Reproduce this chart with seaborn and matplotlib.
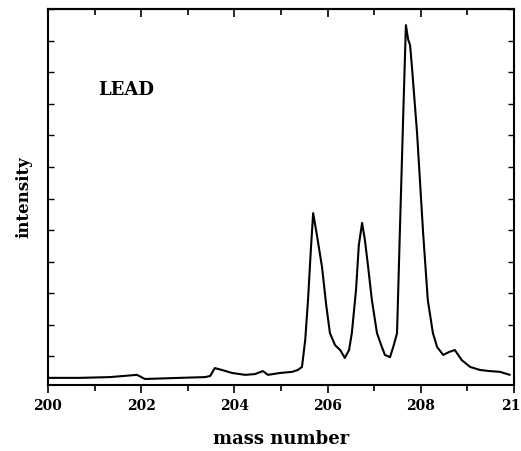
import numpy as np
import pandas as pd
import matplotlib
matplotlib.use("Agg")
import matplotlib.pyplot as plt
import matplotlib.transforms as mtransforms
import seaborn as sns

mass = [200.00, 200.69, 201.33, 201.91, 202.08, 202.83, 203.37, 203.48, 203.58, 203.73,
        203.95, 204.23, 204.44, 204.61, 204.72, 204.98, 205.24, 205.36, 205.45, 205.52,
        205.58, 205.64, 205.69, 205.77, 205.88, 205.97, 206.05, 206.16, 206.27, 206.37,
        206.46, 206.52, 206.61, 206.67, 206.74, 206.80, 206.87, 206.95, 207.06, 207.15,
        207.23, 207.34, 207.42, 207.49, 207.55, 207.62, 207.68, 207.73, 207.77, 207.81,
        207.92, 208.05, 208.15, 208.26, 208.35, 208.48, 208.61, 208.73, 208.88, 209.06,
        209.27, 209.48, 209.70, 209.91]
intensity = [1.9, 1.9, 2.1, 2.7, 1.6, 1.9, 2.1, 2.4, 4.5, 4.0,
             3.2, 2.7, 2.9, 3.7, 2.7, 3.2, 3.5, 4.0, 4.8, 12.0,
             22.6, 35.9, 45.7, 39.9, 31.4, 21.3, 13.8, 10.6, 9.3, 7.2,
             9.3, 13.8, 25.3, 37.2, 43.1, 38.6, 31.4, 22.6, 13.8, 10.6,
             8.0, 7.4, 10.6, 13.8, 40.4, 70.5, 95.7, 91.8, 90.4, 84.6,
             67.0, 40.4, 22.6, 13.8, 10.1, 8.0, 8.8, 9.3, 6.6, 4.8,
             4.0, 3.7, 3.5, 2.7]
xtick_vals = [200, 202, 204, 206, 208, 210]
xtick_labels = ["200", "202", "204", "206", "208", "21"]

df = pd.DataFrame({"mass": mass, "intensity": intensity})

sns.set_style("ticks")
plt.rcParams["font.family"] = ["DejaVu Serif"]
plt.rcParams.update({"text.color": "black", "axes.labelcolor": "black",
                     "xtick.color": "black", "ytick.color": "black"})

fig = plt.figure(figsize=(5.21, 4.51), dpi=100)
ax = fig.add_axes([48/521, 1 - 385/451, (514-48)/521, (385-9)/451])

sns.lineplot(data=df, x="mass", y="intensity", ax=ax, color="black", linewidth=1.5)

ax.set_xlim(200, 210)
ax.set_ylim(0, 100)

ax.set_xticks(xtick_vals)
ax.set_xticklabels(xtick_labels, fontsize=10, fontweight="bold")
ax.set_xticks(np.arange(201, 210, 2), minor=True)
ax.tick_params(axis="x", which="major", direction="out", length=6, width=1.2, pad=4)
ax.tick_params(axis="x", which="minor", direction="out", length=4, width=1.2)

# keep the clipped last label inside the figure
last = ax.get_xticklabels()[-1]
last.set_horizontalalignment("right")
last.set_transform(last.get_transform() +
                   mtransforms.ScaledTranslation(6/100, 0, fig.dpi_scale_trans))

yt = np.arange(7.7, 100, 8.38)
ax.set_yticks(yt)
ax.set_yticklabels([])
ax.tick_params(axis="y", which="major", direction="in", length=4, width=1.0,
               left=True, right=True)

# top ticks inward
top = ax.secondary_xaxis("top")
top.set_xticks(xtick_vals)
top.set_xticks(np.arange(201, 210, 2), minor=True)
top.set_xticklabels([])
top.tick_params(axis="x", which="major", direction="in", length=6, width=1.2)
top.tick_params(axis="x", which="minor", direction="in", length=4, width=1.2)
top.spines["top"].set_linewidth(1.5)

for s in ax.spines.values():
    s.set_linewidth(1.5)
    s.set_color("black")

ax.set_xlabel("mass number", fontsize=13, fontweight="bold", labelpad=12)
ax.set_ylabel("intensity", fontsize=12, fontweight="bold", labelpad=8)

ax.text(201.08, 78.5, "LEAD", fontsize=13, fontweight="bold", ha="left", va="center")

fig.savefig("out.png", dpi=100)
